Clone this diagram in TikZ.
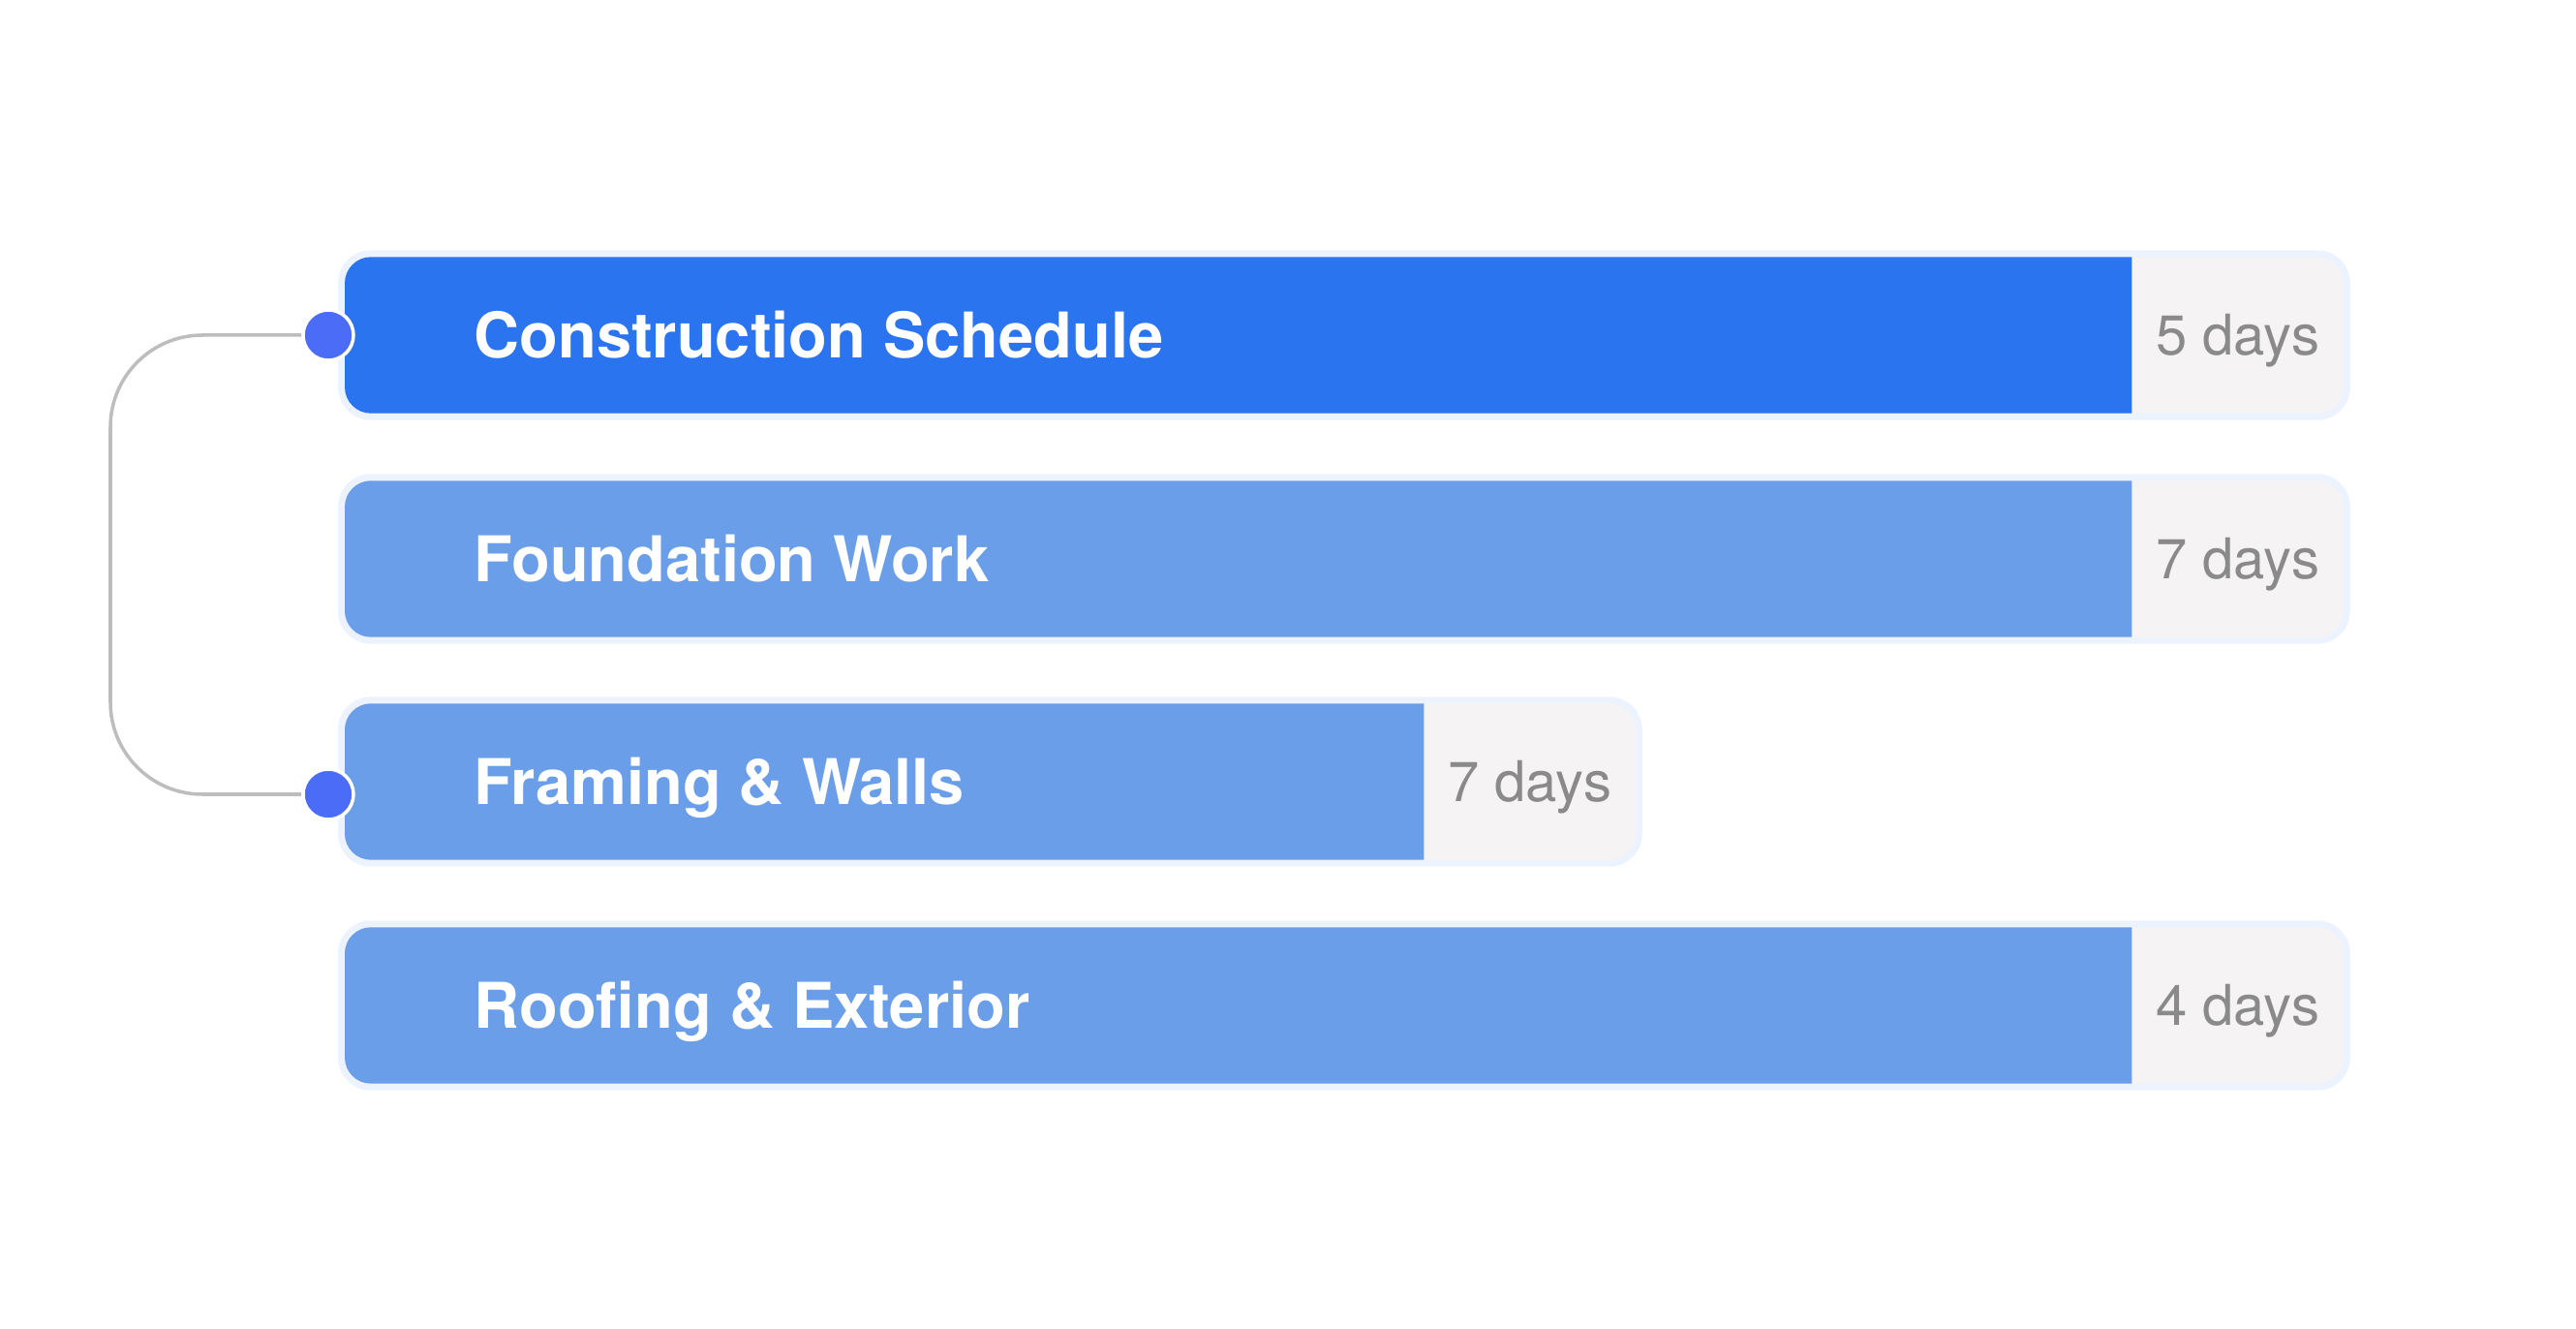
\documentclass[tikz,border=0pt]{standalone}
\usepackage{fontspec}
\setmainfont{TeX Gyre Heros}
\usetikzlibrary{positioning,backgrounds}
\definecolor{mainblue}{HTML}{2B74F0}
\definecolor{softblue}{HTML}{6A9EE8}
\definecolor{trackgray}{HTML}{F5F3F3}
\definecolor{daytext}{HTML}{8A8A8A}
\definecolor{pinblue}{HTML}{4A6CF7}
\definecolor{linkgray}{HTML}{BDBDBD}
\definecolor{glow}{HTML}{EDF3FE}

\begin{document}
\begin{tikzpicture}[
  taskbar/.style={rectangle,minimum height=1.6cm,inner sep=0pt,anchor=west},
  days/.style={rectangle,minimum height=1.6cm,minimum width=2.17cm,
    inner sep=0pt,text=daytext,font=\fontsize{16.5}{18}\selectfont,text height=0.42cm,text depth=0pt},
  tasklabel/.style={inner sep=0pt,anchor=base west,text=white,font=\fontsize{18.5}{22}\selectfont\bfseries},
  pin/.style={circle,fill=pinblue,draw=white,line width=1pt,minimum size=0.52cm,inner sep=0pt},
  link/.style={draw=linkgray,line width=1pt,rounded corners=0.95cm}]
\useasboundingbox (0,0) rectangle (26.6,-13.72);

% task bars
\node[taskbar,minimum width=18.44cm] (cs) at (3.56,-3.46) {};
\node[days,right=0pt of cs] (cs-days) {5 days};
\node[tasklabel] (cs-lbl) at ([xshift=1.33cm,yshift=-0.24cm]cs.west) {Construction Schedule};

\node[taskbar,minimum width=18.44cm] (fw) at (3.56,-5.77) {};
\node[days,right=0pt of fw] (fw-days) {7 days};
\node[tasklabel] (fw-lbl) at ([xshift=1.33cm,yshift=-0.24cm]fw.west) {Foundation Work};

\node[taskbar,minimum width=11.13cm] (fr) at (3.56,-8.07) {};
\node[days,right=0pt of fr] (fr-days) {7 days};
\node[tasklabel] (fr-lbl) at ([xshift=1.33cm,yshift=-0.24cm]fr.west) {Framing \& Walls};

\node[taskbar,minimum width=18.44cm] (rf) at (3.56,-10.38) {};
\node[days,right=0pt of rf] (rf-days) {4 days};
\node[tasklabel] (rf-lbl) at ([xshift=1.33cm,yshift=-0.24cm]rf.west) {Roofing \& Exterior};

% halo, grey track, then the coloured part
\begin{pgfonlayer}{background}
\fill[white] (0,0) rectangle (26.6,-13.72);
\foreach \t/\c in {cs/mainblue,fw/softblue,fr/softblue,rf/softblue} {
  \fill[glow,rounded corners=0.34cm] ([shift={(-0.07,0.07)}]\t.north west) rectangle ([shift={(0.07,-0.07)}]\t-days.south east);
  \fill[trackgray,rounded corners=0.27cm] (\t.north west) rectangle (\t-days.south east);
  \begin{scope}
    \clip (\t.north west) rectangle (\t.south east);
    \fill[\c,rounded corners=0.27cm] (\t.north west) rectangle ([xshift=1cm]\t.south east);
  \end{scope}
}
\end{pgfonlayer}

% dependency
\node[pin] (pin1) at ([xshift=-0.17cm]cs.west) {};
\node[pin] (pin3) at ([xshift=-0.17cm,yshift=-0.13cm]fr.west) {};
\coordinate (bend) at (1.14,-5.77);
\path[link] (pin1) -| (bend) |- (pin3);
\end{tikzpicture}
\end{document}
